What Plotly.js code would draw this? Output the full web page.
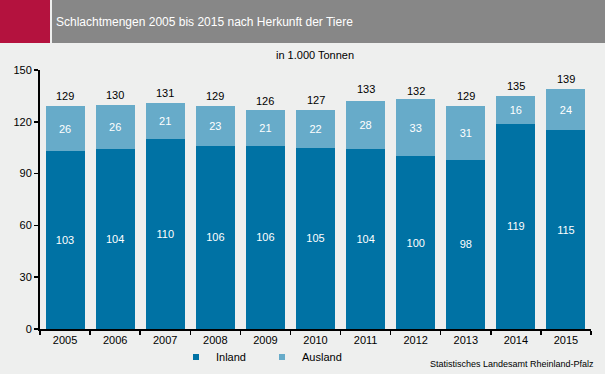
<!DOCTYPE html>
<html>
<head>
<meta charset="utf-8">
<script src="https://cdn.plot.ly/plotly-3.0.1.min.js"></script>
<style>html,body{margin:0;padding:0;background:#eeefee;}#chart{width:605px;height:374px;}</style>
</head>
<body>
<div id="chart"></div>
<script>
const years = ['2005','2006','2007','2008','2009','2010','2011','2012','2013','2014','2015'];
const inland = [103,104,110,106,106,105,104,100,98,119,115];
const ausland = [26,26,21,23,21,22,28,33,31,16,24];
const totals = [129,130,131,129,126,127,133,132,129,135,139];
const seriesNames = ['Inland','Ausland'];
const seriesColors = ['#0072a4','#67abc9'];

const W = 605, H = 374;
const M = {l:40, r:14, t:70, b:45, autoexpand:false};
const pw = W - M.l - M.r, ph = H - M.t - M.b;
const px = x => (x - M.l) / pw;
const py = y => (H - M.b - y) / ph;

const fnt = 'Liberation Sans, Arial, sans-serif';

const traces = [
  {type:'bar', name:seriesNames[0], x:years, y:inland, marker:{color:seriesColors[0]},
   text:inland.map(String), textposition:'inside', insidetextanchor:'middle',
   textfont:{color:'#ffffff', size:11, family:fnt}, hoverinfo:'skip', showlegend:false},
  {type:'bar', name:seriesNames[1], x:years, y:ausland, marker:{color:seriesColors[1]},
   text:ausland.map(String), textposition:'inside', insidetextanchor:'middle',
   textfont:{color:'#ffffff', size:11, family:fnt}, hoverinfo:'skip', showlegend:false},
  // legend-only entries with small square symbols
  {type:'scatter', mode:'markers', name:seriesNames[0], x:[years[0]], y:[null],
   marker:{symbol:'square', size:6, color:seriesColors[0]}},
  {type:'scatter', mode:'markers', name:seriesNames[1], x:[years[0]], y:[null],
   marker:{symbol:'square', size:6, color:seriesColors[1]}}
];

// totals above the stacks; x given as category index
const totalAnns = years.map((yr, i) => ({
  x:i, y:totals[i], xref:'x', yref:'y', text:String(totals[i]), showarrow:false,
  yanchor:'bottom', yshift:2, font:{size:11, family:fnt, color:'#000'}
}));

const layout = {
  width:W, height:H, margin:M,
  paper_bgcolor:'#eeefee', plot_bgcolor:'#eeefee',
  barmode:'stack', bargap:0.22,
  font:{family:fnt, size:11, color:'#000'},
  showlegend:true,
  legend:{orientation:'h', x:px(176), xanchor:'left', y:py(357), yanchor:'middle',
          font:{size:11, family:fnt}, bgcolor:'rgba(0,0,0,0)', itemwidth:30,
          entrywidth:41, entrywidthmode:'pixels', traceorder:'normal'},
  xaxis:{type:'category', categoryarray:years, categoryorder:'array',
         range:[-0.5, years.length - 0.5], autorange:false,
         tickson:'boundaries', ticks:'outside', ticklen:4, tickwidth:1.5,
         tickcolor:'#000', showline:true, linecolor:'#000', linewidth:2, showgrid:false,
         tickfont:{size:11}, fixedrange:true},
  yaxis:{range:[0,150], autorange:false, dtick:30, tick0:0, ticks:'outside', ticklen:4, tickwidth:1.5,
         tickcolor:'#000', showline:true, linecolor:'#000', linewidth:2, showgrid:false,
         zeroline:false, tickfont:{size:11}, fixedrange:true},
  shapes:[
    {type:'rect', xref:'paper', yref:'paper', x0:px(0), x1:px(50), y0:py(43), y1:py(0),
     fillcolor:'#b4123e', line:{width:0}, layer:'above'},
    {type:'rect', xref:'paper', yref:'paper', x0:px(52), x1:px(605), y0:py(43), y1:py(0),
     fillcolor:'#878787', line:{width:0}, layer:'above'}
  ],
  annotations:[
    {text:'Schlachtmengen 2005 bis 2015 nach Herkunft der Tiere', xref:'paper', yref:'paper',
     x:px(54), y:py(22), xanchor:'left', yanchor:'middle', showarrow:false,
     font:{color:'#ffffff', size:12, family:fnt}},
    {text:'in 1.000 Tonnen', xref:'paper', yref:'paper', x:px(315), y:py(55),
     xanchor:'center', yanchor:'middle', showarrow:false, font:{size:11, family:fnt}},
    {text:'Statistisches Landesamt Rheinland-Pfalz', xref:'paper', yref:'paper',
     x:px(596), y:py(364), xanchor:'right', yanchor:'middle', showarrow:false,
     font:{size:9, family:fnt}}
  ].concat(totalAnns)
};

Plotly.newPlot('chart', traces, layout, {displayModeBar:false, staticPlot:true});
</script>
</body>
</html>
